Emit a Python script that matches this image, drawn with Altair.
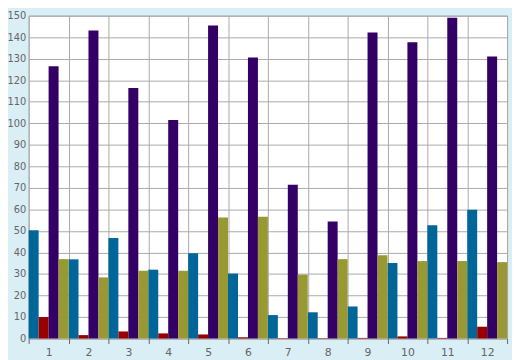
import altair as alt
import pandas as pd

months = ["1", "2", "3", "4", "5", "6", "7", "8", "9", "10", "11", "12"]
series_names = ["Series 1", "Series 2", "Series 3", "Series 4"]
series_colors = ["#006699", "#990000", "#330066", "#999933"]

s1 = [50.3, 36.8, 46.7, 32.0, 39.6, 30.2, 10.9, 12.2, 14.9, 35.1, 52.6, 59.8]
s2 = [10.0, 1.6, 3.3, 2.4, 1.9, 0.6, 0.2, 0.2, 0.3, 1.0, 0.3, 5.5]
s3 = [126.5, 143.1, 116.4, 101.5, 145.4, 130.6, 71.4, 54.4, 142.2, 137.7, 149.0, 131.0]
s4 = [36.9, 28.4, 31.5, 31.5, 56.2, 56.6, 29.7, 36.9, 38.7, 36.0, 36.0, 35.5]

rows = []
for name, vals in zip(series_names, [s1, s2, s3, s4]):
    for m, v in zip(months, vals):
        rows.append({"month": m, "series": name, "value": v})
df = pd.DataFrame(rows)

grid_color = "#aaaaaa"
text_color = "#666666"

chart = alt.Chart(df).mark_bar().encode(
    x=alt.X("month:N", sort=months, title=None,
            scale=alt.Scale(paddingInner=0, paddingOuter=0),
            axis=alt.Axis(tickBand="extent", grid=True, gridColor=grid_color,
                          gridWidth=1, labelAngle=0, domain=False,
                          tickColor=text_color, tickSize=5, labelPadding=3,
                          labelColor=text_color, labelFont="DejaVu Sans",
                          labelFontSize=11)),
    xOffset=alt.XOffset("series:N", sort=series_names,
                        scale=alt.Scale(paddingInner=0, paddingOuter=0)),
    y=alt.Y("value:Q", title=None,
            scale=alt.Scale(domain=[0, 150], nice=False),
            axis=alt.Axis(values=list(range(0, 151, 10)), grid=True,
                          gridColor=grid_color, gridWidth=1, ticks=False,
                          domain=False, labelPadding=3, labelColor=text_color,
                          labelFont="DejaVu Sans", labelFontSize=10)),
    color=alt.Color("series:N", sort=series_names,
                    scale=alt.Scale(domain=series_names, range=series_colors),
                    legend=None),
).properties(
    width=486,
    height=328,
    background="#d9eef5",
    padding={"left": 21, "top": 5, "right": 5, "bottom": 20},
    autosize=alt.AutoSizeParams(type="none"),
).configure_view(
    fill="white",
    stroke=grid_color,
    strokeWidth=1,
)

chart.save("out.html", embed_options={"renderer": "svg", "actions": False})
